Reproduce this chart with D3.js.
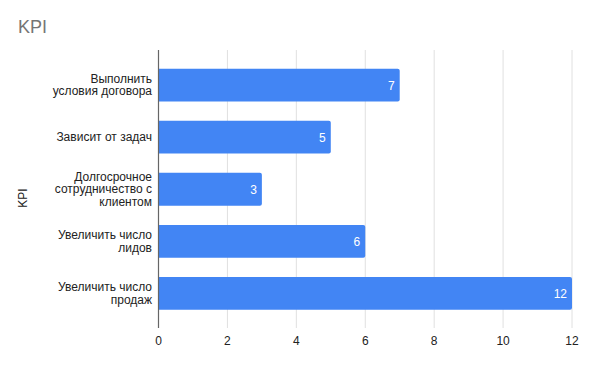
<!DOCTYPE html>
<html><head><meta charset="utf-8">
<script src="https://cdn.jsdelivr.net/npm/d3@7"></script>
<style>body{margin:0;background:#fff}svg{display:block;font-family:"Liberation Sans",Arial,sans-serif}</style>
</head><body>
<script>
const categories = [
  ["Выполнить", "условия договора"],
  ["Зависит от задач"],
  ["Долгосрочное", "сотрудничество с", "клиентом"],
  ["Увеличить число", "лидов"],
  ["Увеличить число", "продаж"]
];
const values = [7, 5, 3, 6, 12];
const xTicks = [0, 2, 4, 6, 8, 10, 12];

(function () {
const W = 591, H = 365;
const svg = d3.select("body").append("svg").attr("width", W).attr("height", H);

const x = d3.scaleLinear().domain([0, 12]).range([158.5, 572]);
const y = d3.scaleBand().domain(d3.range(categories.length)).range([59, 319.5])
  .paddingInner(0.37).paddingOuter(0.185);
const plotTop = 50, plotBottom = 328;

// gridlines
svg.append("g").selectAll("line").data(xTicks.filter(d => d > 0)).join("line")
  .attr("x1", d => x(d)).attr("x2", d => x(d)).attr("y1", plotTop).attr("y2", plotBottom)
  .attr("stroke", "#e0e0e0").attr("stroke-width", 1);

// bars
const r = 2;
svg.append("g").selectAll("path").data(values).join("path")
  .attr("fill", "#4285f4")
  .attr("d", (d, i) => {
    const x0 = x(0), x1 = x(d), y0 = y(i), h = y.bandwidth();
    return `M${x0},${y0}H${x1 - r}Q${x1},${y0} ${x1},${y0 + r}V${y0 + h - r}Q${x1},${y0 + h} ${x1 - r},${y0 + h}H${x0}Z`;
  });

// value labels
svg.append("g").selectAll("text").data(values).join("text")
  .attr("x", d => x(d) - 5).attr("y", (d, i) => y(i) + y.bandwidth() / 2 + 4.5)
  .attr("text-anchor", "end").attr("fill", "#fff").attr("font-size", 12).text(d => d);

// y axis line
svg.append("line").attr("x1", x(0)).attr("x2", x(0)).attr("y1", plotTop).attr("y2", plotBottom)
  .attr("stroke", "#666").attr("stroke-width", 1.2);

// x tick labels
svg.append("g").selectAll("text").data(xTicks).join("text")
  .attr("x", d => x(d)).attr("y", 345).attr("text-anchor", "middle")
  .attr("fill", "#222").attr("font-size", 12).text(d => d);

// category labels
const lh = 12.5;
const cat = svg.append("g").selectAll("text").data(categories).join("text")
  .attr("text-anchor", "end").attr("fill", "#222").attr("font-size", 12)
  .attr("y", (d, i) => y(i) + y.bandwidth() / 2 + 4 - (d.length - 1) * lh / 2);
cat.selectAll("tspan").data(d => d).join("tspan")
  .attr("x", 152).attr("dy", (d, j) => j === 0 ? 0 : lh).text(d => d);

// y axis title
svg.append("text").attr("transform", "translate(27,198) rotate(-90)")
  .attr("text-anchor", "middle").attr("fill", "#222").attr("font-size", 12).text("KPI");

// chart title
svg.append("text").attr("x", 18).attr("y", 33).attr("fill", "#757575")
  .attr("font-size", 18).text("KPI");
})();
</script>
</body></html>
